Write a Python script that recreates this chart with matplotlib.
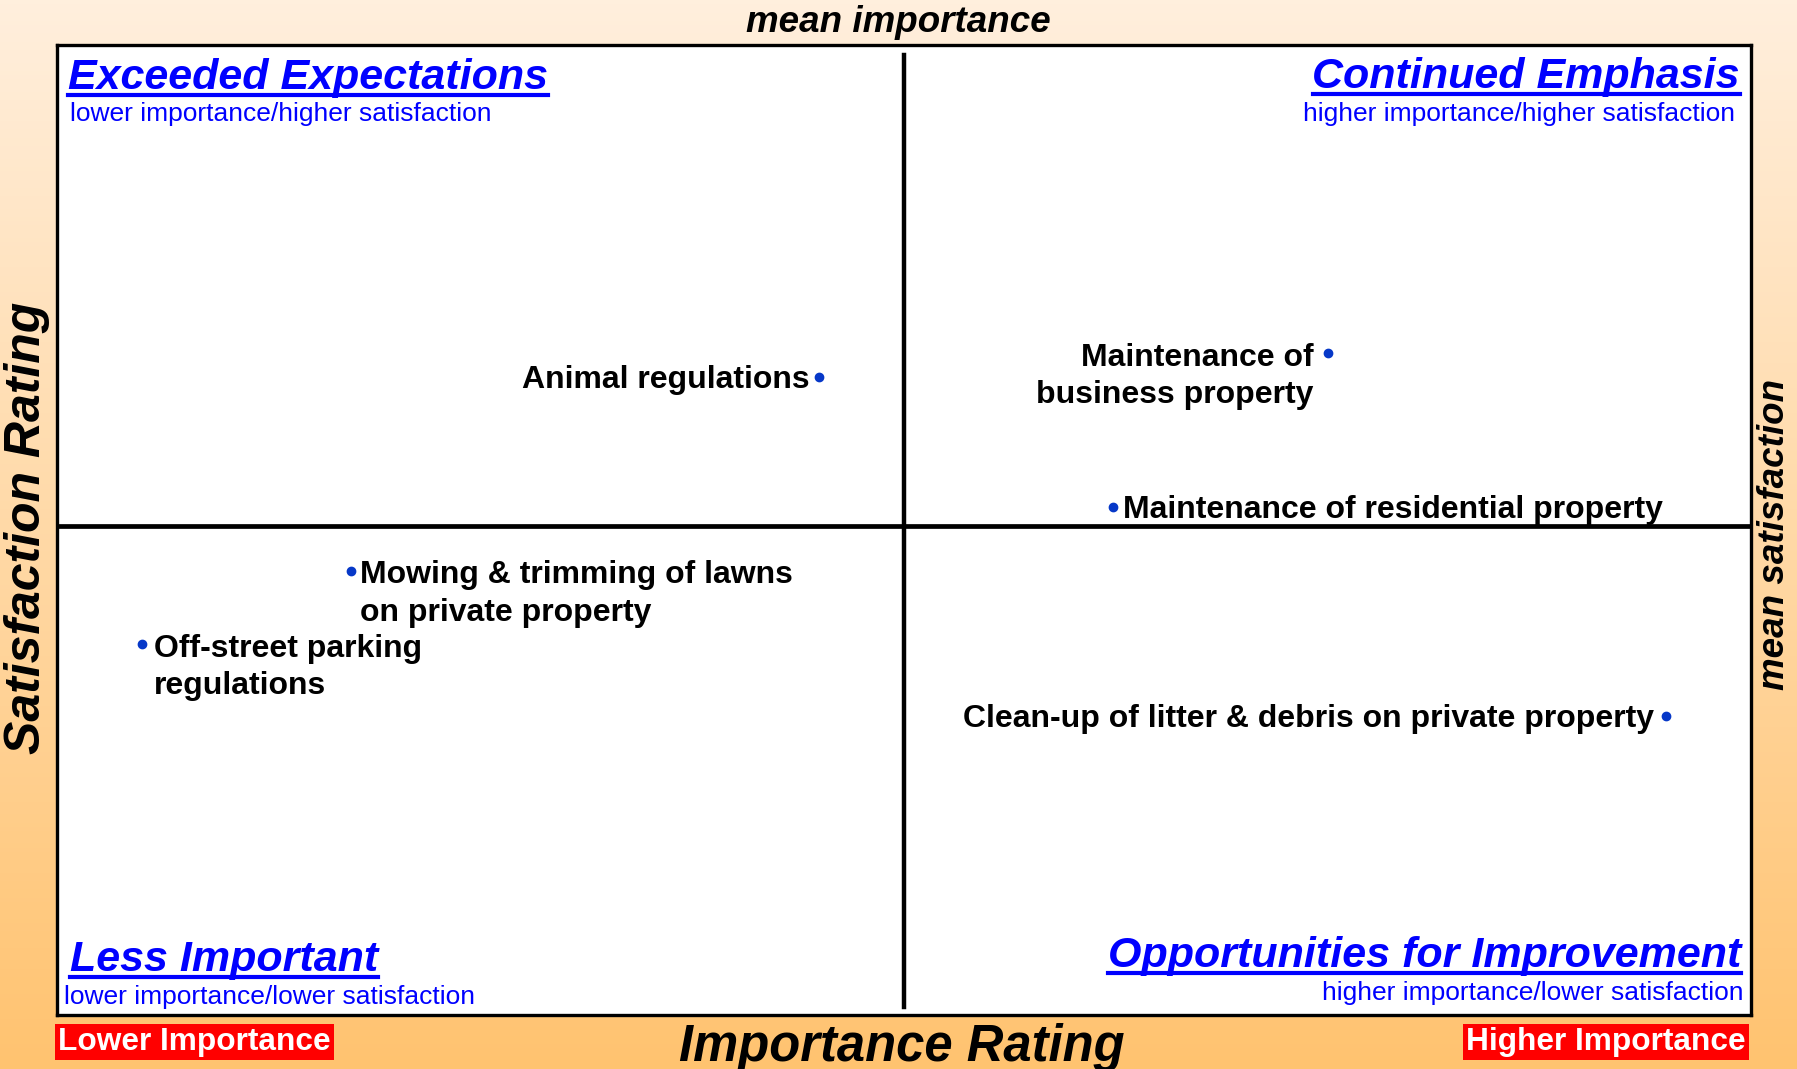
import numpy as np
import matplotlib
matplotlib.use('Agg')
import matplotlib.pyplot as plt
from matplotlib.lines import Line2D

plt.rcParams['font.family'] = ['Liberation Sans', 'DejaVu Sans']

# importance (% ranking in top 3) and satisfaction (% satisfied)
items = ['Animal regulations',
         'Maintenance of\nbusiness property',
         'Maintenance of residential property',
         'Mowing & trimming of lawns\non private property',
         'Off-street parking\nregulations',
         'Clean-up of litter & debris on private property']
importance = [18.5, 27.5, 23.7, 10.2, 6.5, 33.5]
satisfaction = [57.9, 59.1, 51.2, 47.9, 44.1, 40.4]
label_side = ['left', 'left', 'right', 'right', 'right', 'left']

mean_importance = 20.0
mean_satisfaction = 50.2
x_range = (5, 35)
y_range = (25, 75)

W, H = 1797, 1069
fig = plt.figure(figsize=(W / 100, H / 100), dpi=100)

# orange gradient background
bg = fig.add_axes([0, 0, 1, 1], zorder=-10)
top = np.array([255, 239, 221]) / 255
bot = np.array([255, 195, 112]) / 255
t = np.linspace(0, 1, 256)[:, None]
grad = top[None, :] * (1 - t) + bot[None, :] * t
bg.imshow(grad[:, None, :], aspect='auto', extent=[0, 1, 0, 1])
bg.axis('off')

def fx(px):
    return px / W

def fy(py):
    return 1 - py / H

left, right, topp, bottom = 57, 1751, 45, 1015
ax = fig.add_axes([fx(left), fy(bottom), fx(right - left), (bottom - topp) / H])
ax.set_facecolor('white')
ax.set_xlim(*x_range)
ax.set_ylim(*y_range)
ax.set_xticks([])
ax.set_yticks([])
for s in ax.spines.values():
    s.set_linewidth(2.4)
    s.set_color('black')

ax.axvline(mean_importance, ymin=0.008, ymax=0.99, color='black', lw=3.2)
ax.axhline(mean_satisfaction, color='black', lw=3.4)

ax.plot(importance, satisfaction, 'o', color='#0638c8', ms=6, zorder=5)

line_gap = 28  # points between label lines
for name, xv, yv, side in zip(items, importance, satisfaction, label_side):
    if side == 'left':
        dx, ha = -7, 'right'
    else:
        dx, ha = 7, 'left'
    if name.startswith('Off-street') or name.startswith('Clean-up'):
        dx = dx * 9 / 7
    if name.startswith('Maintenance of\n'):
        dx = -10
    nl = name.count('\n')
    dy = -8 - nl * line_gap
    ax.annotate(name, (xv, yv), xytext=(dx, dy), textcoords='offset points',
                ha=ha, va='baseline', multialignment=ha, linespacing=1.32,
                fontsize=23, fontweight='bold', color='black', zorder=6)

blue = '#0000ff'
titles = [
    ('Exceeded Expectations', 68, 89, 'left'),
    ('Continued Emphasis', 1740, 88, 'right'),
    ('Less Important', 70, 971, 'left'),
    ('Opportunities for Improvement', 1741, 967, 'right'),
]
subs = [
    ('lower importance/higher satisfaction', 70, 121, 'left'),
    ('higher importance/higher satisfaction', 1735, 121, 'right'),
    ('lower importance/lower satisfaction', 64, 1004, 'left'),
    ('higher importance/lower satisfaction', 1743, 1000, 'right'),
]
title_objs = []
for txt, px, py, ha in titles:
    tt = fig.text(fx(px), fy(py), txt, ha=ha, va='baseline', fontsize=31,
                  fontweight='bold', fontstyle='italic', color=blue)
    title_objs.append(tt)
for txt, px, py, ha in subs:
    fig.text(fx(px), fy(py), txt, ha=ha, va='baseline', fontsize=19, color=blue)

fig.text(fx(898), fy(32), 'mean importance', ha='center', va='baseline',
         fontsize=26.5, fontweight='bold', fontstyle='italic')
fig.text(fx(902), fy(1061), 'Importance Rating', ha='center', va='baseline',
         fontsize=36.5, fontweight='bold', fontstyle='italic')
fig.text(fx(27), fy(528), 'Satisfaction Rating', ha='center', va='center',
         rotation=90, fontsize=36, fontweight='bold', fontstyle='italic')
fig.text(fx(1775), fy(534), 'mean satisfaction', ha='center', va='center',
         rotation=90, fontsize=26.5, fontweight='bold', fontstyle='italic')

box = dict(boxstyle='square,pad=0.1', fc='#ff0000', ec='none')
fig.text(fx(58), fy(1042), 'Lower Importance', ha='left', va='center',
         fontsize=22.8, fontweight='bold', color='white', bbox=box)
fig.text(fx(1746), fy(1042), 'Higher Importance', ha='right', va='center',
         fontsize=22.8, fontweight='bold', color='white', bbox=box)

# underline the quadrant titles
fig.canvas.draw()
r = fig.canvas.get_renderer()
for tt, (txt, px, py, ha) in zip(title_objs, titles):
    bb = tt.get_window_extent(r)
    yline = (H - py - 6) / H
    fig.add_artist(Line2D([bb.x0 / W, bb.x1 / W], [yline, yline],
                          transform=fig.transFigure, color=blue, lw=3))

fig.savefig('out.png', dpi=100)
